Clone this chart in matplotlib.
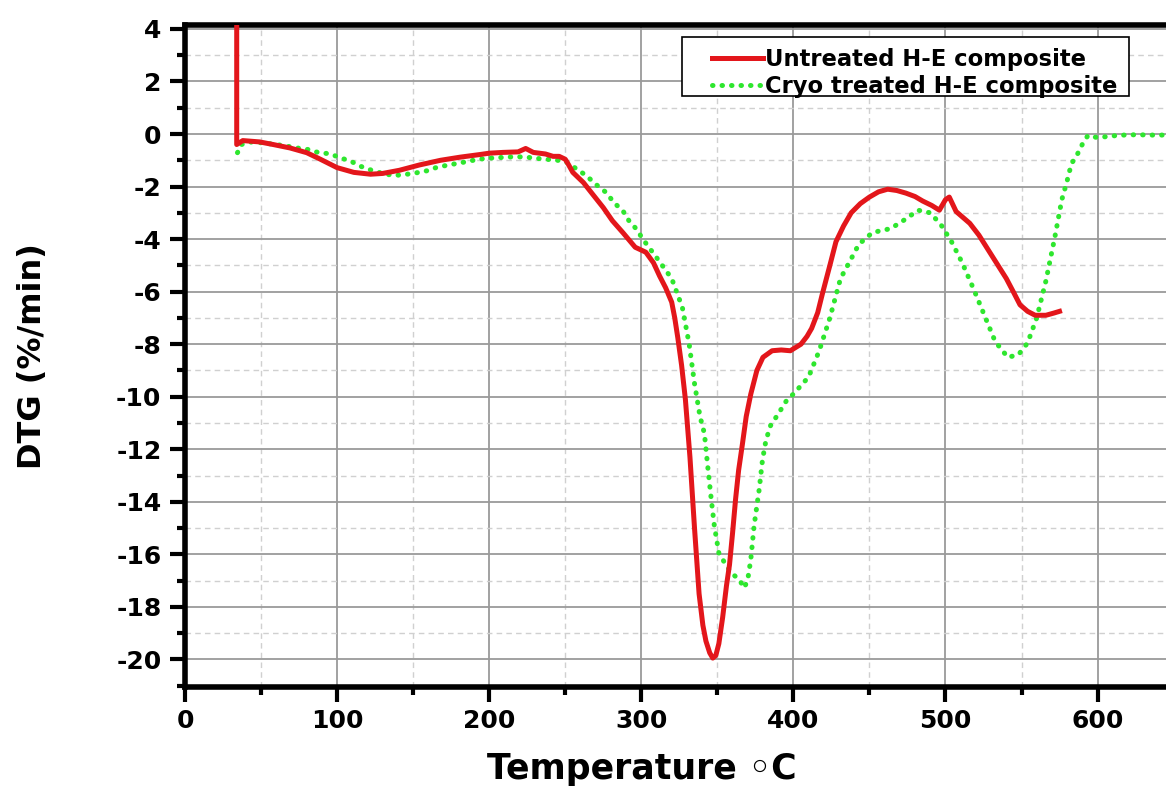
import matplotlib
matplotlib.use("Agg")
import matplotlib.pyplot as plt
from matplotlib.patches import Rectangle
from matplotlib.ticker import MultipleLocator

plt.rcParams['font.family'] = ['DejaVu Sans']
plt.rcParams['font.weight'] = 'bold'
plt.rcParams['axes.unicode_minus'] = False

# Untreated H-E composite (red solid)
red_t = [34, 34, 38, 49, 58, 69, 80, 89, 100, 111, 122, 130, 141, 154, 168, 181, 194,
         200, 209, 219, 224, 229, 237, 242, 246, 250, 252, 255, 262, 268, 275, 281, 288,
         296, 303, 308, 312, 316, 320, 322, 324, 326.5, 329, 332, 335, 338, 340.5, 342.5,
         345, 347, 349, 351, 353.5, 356, 358, 360, 362, 364, 366.5, 369, 372, 376, 380,
         386, 392, 398, 405, 409, 412, 416, 419, 424, 428, 433, 438, 444, 450, 456, 462,
         468, 474, 480, 485, 491, 496, 500, 502.5, 507, 511, 516, 522, 528, 534, 540, 545,
         549, 554, 559, 566, 571, 575]
red_v = [4.5, -0.4, -0.25, -0.3, -0.4, -0.53, -0.71, -0.96, -1.28, -1.46, -1.53, -1.5,
         -1.38, -1.18, -1.0, -0.88, -0.78, -0.73, -0.7, -0.68, -0.55, -0.7, -0.76, -0.85,
         -0.85, -0.96, -1.15, -1.46, -1.85, -2.29, -2.8, -3.3, -3.76, -4.31, -4.5, -4.9,
         -5.4, -5.85, -6.4, -7.0, -7.75, -8.8, -10.1, -12.3, -15.0, -17.5, -18.7, -19.3,
         -19.75, -19.95, -19.85, -19.4, -18.4, -17.2, -16.4, -15.2, -13.9, -12.8, -11.8,
         -10.75, -9.9, -9.0, -8.5, -8.25, -8.22, -8.25, -8.0, -7.7, -7.4, -6.8, -6.1,
         -5.0, -4.1, -3.5, -3.0, -2.65, -2.4, -2.2, -2.1, -2.15, -2.25, -2.38, -2.55,
         -2.72, -2.9, -2.5, -2.4, -2.95, -3.15, -3.4, -3.85, -4.4, -4.95, -5.5, -6.05,
         -6.5, -6.75, -6.9, -6.9, -6.82, -6.75]

# Cryo treated H-E composite (green dotted)
green_t = [34.5, 36, 37, 44, 51.5, 60, 67, 73.5, 81, 88, 95, 102, 109.5, 116, 123.7, 130,
           137, 143.5, 151, 159, 165, 173, 180, 187, 193, 200, 209, 215, 223, 230, 237, 244,
           250.5, 257, 264, 270, 277, 282, 288, 292, 297, 301, 310, 320, 327, 331.5, 335,
           338.6, 341.5, 343.7, 346, 348, 351, 354.6, 359, 364.4, 367.7, 370, 372, 374.2,
           377.5, 379.7, 382, 385, 388.4, 391.7, 396, 400, 410, 417, 424, 431, 438, 443,
           452, 464, 473.5, 482, 490, 497, 504, 511, 518.5, 525.6, 532.7, 541, 548, 554,
           560, 566, 572, 576.5, 580, 581.5, 583.6, 587, 590, 593.7, 600, 607, 614, 621,
           628, 635, 645]
green_v = [-0.71, -0.55, -0.4, -0.3, -0.34, -0.4, -0.46, -0.53, -0.59, -0.71, -0.75, -0.9,
           -1.05, -1.24, -1.4, -1.5, -1.58, -1.55, -1.49, -1.4, -1.28, -1.18, -1.11, -1.03,
           -0.96, -0.92, -0.89, -0.87, -0.87, -0.92, -0.96, -0.99, -1.06, -1.31, -1.59,
           -1.91, -2.23, -2.61, -2.93, -3.31, -3.63, -4.0, -4.7, -5.5, -6.6, -8.0, -9.5,
           -10.75, -11.4, -12.66, -13.9, -14.9, -15.95, -16.3, -16.7, -16.96, -17.28,
           -16.96, -16.2, -14.9, -13.54, -12.4, -11.65, -11.1, -10.8, -10.5, -10.1, -9.9,
           -9.25, -8.25, -7.0, -5.5, -4.75, -4.2, -3.75, -3.6, -3.25, -2.9, -3.0, -3.45,
           -4.1, -4.9, -5.9, -6.9, -7.9, -8.5, -8.4, -7.95, -7.0, -5.6, -3.9, -2.5, -1.78,
           -1.42, -1.06, -0.74, -0.39, -0.05, -0.14, -0.09, -0.05, -0.03, -0.03, -0.04, -0.04]

fig = plt.figure(figsize=(11.66, 7.95), dpi=100)
ax = fig.add_axes([185 / 1166, 1 - 687 / 795, 981 / 1166, 662 / 795])

ax.plot(green_t, green_v, color='#2ee62e', lw=3.6, linestyle=(0, (0.1, 1.8)),
        dash_capstyle='round', label='Cryo treated H-E composite', zorder=3)
ax.plot(red_t, red_v, color='#e3161b', lw=3.6, solid_joinstyle='round',
        label='Untreated H-E composite', zorder=4)

ax.set_xlim(0, 645)
ax.set_ylim(-21.05, 4.15)
ax.xaxis.set_major_locator(MultipleLocator(100))
ax.xaxis.set_minor_locator(MultipleLocator(50))
ax.yaxis.set_major_locator(MultipleLocator(2))
ax.yaxis.set_minor_locator(MultipleLocator(1))

ax.grid(which='major', color='#9a9a9a', lw=1.3, linestyle='-')
ax.grid(which='minor', color='#d0d0d0', lw=1.0, linestyle=(0, (4, 3)))
ax.set_axisbelow(True)

for s in ['left', 'bottom', 'top']:
    ax.spines[s].set_linewidth(4)
ax.spines['right'].set_visible(False)

ax.tick_params(which='major', direction='out', length=11, width=3, labelsize=18)
ax.tick_params(which='minor', direction='out', length=6, width=3)
ax.tick_params(axis='x', which='major', pad=5)
ax.tick_params(axis='y', which='major', pad=6)
ax.tick_params(top=False, right=False)
for lab in ax.get_xticklabels() + ax.get_yticklabels():
    lab.set_fontweight('bold')

ax.set_xlabel('Temperature ◦C', fontsize=25, fontweight='bold')
ax.xaxis.set_label_coords(0.466, -0.098)
ax.set_ylabel('DTG (%/min)', fontsize=23, fontweight='bold')
ax.yaxis.set_label_coords(-0.14, 0.5)

# legend box (wider on the left than the entries need, as in the original)
ax.add_patch(Rectangle((0.5066, 0.8927), 0.4557, 0.0892, transform=ax.transAxes,
                       facecolor='white', edgecolor='black', lw=1.2, zorder=5))
handles, labels = ax.get_legend_handles_labels()
leg = ax.legend(handles[::-1], labels[::-1], loc='upper right',
                bbox_to_anchor=(0.956, 0.9743), borderaxespad=0,
                prop={'weight': 'bold', 'size': 16.3}, handlelength=2.25,
                handletextpad=0.1, labelspacing=0.2, borderpad=0.25,
                frameon=False)
leg.set_zorder(6)

fig.savefig('out.png', dpi=100)
